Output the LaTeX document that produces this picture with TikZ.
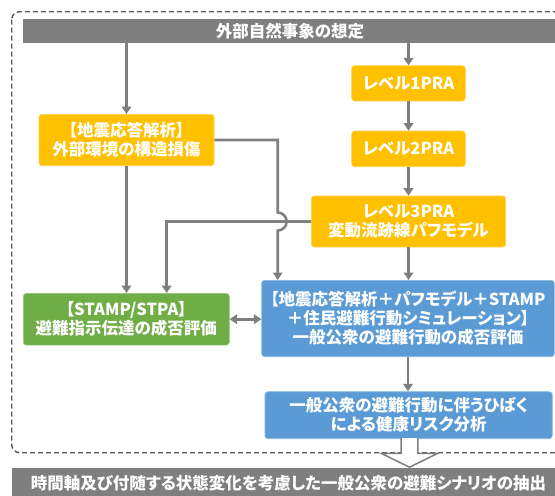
\documentclass[tikz,border=0pt]{standalone}
\usepackage{fontspec}
\setmainfont{Noto Sans CJK JP}[RawFeature={+palt}]
\usetikzlibrary{arrows.meta}
\definecolor{bargray}{HTML}{7F7F7F}
\definecolor{linegray}{HTML}{7F7F7F}
\definecolor{dashgray}{HTML}{595959}
\definecolor{ybox}{HTML}{FFC000}
\definecolor{gbox}{HTML}{70AD47}
\definecolor{bbox}{HTML}{5B9BD5}
\tikzset{
  boxstyle/.style={rectangle, rounded corners=3pt, inner sep=0pt, text=white,
    align=center, font=\fontsize{16.5}{19}\selectfont\bfseries},
  yellowbox/.style={boxstyle, fill=ybox, draw=ybox!70!white, line width=0.6pt},
  greenbox/.style={boxstyle, fill=gbox, draw=gbox!70!white, line width=0.6pt},
  bluebox/.style={boxstyle, fill=bbox, draw=bbox!70!white, line width=0.6pt},
  barstyle/.style={rectangle, inner sep=0pt, fill=bargray, text=white,
    font=\fontsize{16.5}{19}\selectfont\bfseries},
  conn/.style={draw=linegray, line width=2.6pt, -{Triangle[width=9.5pt,length=7.5pt]}},
  conn2/.style={draw=linegray, line width=2.6pt, {Triangle[width=9.5pt,length=7.5pt]}-{Triangle[width=9.5pt,length=7.5pt]}},
  frame/.style={draw=dashgray, line width=1.4pt, dash pattern=on 5pt off 3pt, rounded corners=8pt},
}
\begin{document}
\begin{tikzpicture}[x=1pt,y=-1pt]
\useasboundingbox (0,0) rectangle (555,496);
\clip (0,0) rectangle (555,496);
% dashed frame
\draw[frame] (11.7,11.7) rectangle (565,452.7);
% bars
\fill[bargray] (23,19) rectangle (560,43.3);
\node[barstyle, fill=none] (top) at (290,31.2) {外部自然事象の想定};
\coordinate (topL) at (126.5,43.3);
\coordinate (topR) at (408.5,43.3);
\fill[bargray] (12,468.3) rectangle (565,500);
\node[barstyle, fill=none] (bottom) at (288.5,483) {時間軸及び付随する状態変化を考慮した一般公衆の避難シナリオの抽出};
% boxes
\node[yellowbox, minimum width=175pt, minimum height=51.4pt] (jishin) at (126.5,140)
  {【地震応答解析】\\外部環境の構造損傷};
\node[yellowbox, minimum width=113.6pt, minimum height=35.3pt] (l1) at (408.5,83.35) {レベル1PRA};
\node[yellowbox, minimum width=113.6pt, minimum height=35.7pt] (l2) at (408.5,148.85) {レベル2PRA};
\node[yellowbox, minimum width=194.4pt, minimum height=51pt] (l3) at (408.5,221.5)
  {レベル3PRA\\変動流跡線パフモデル};
\node[greenbox, minimum width=206pt, minimum height=51.7pt] (stamp) at (126.3,319.2)
  {【STAMP/STPA】\\避難指示伝達の成否評価};
\node[bluebox, minimum width=292.6pt, minimum height=76.4pt] (eval) at (408,318.5)
  {【地震応答解析＋パフモデル＋STAMP\\＋住民避難行動シミュレーション】\\一般公衆の避難行動の成否評価};
\node[bluebox, minimum width=287.3pt, minimum height=47pt] (risk) at (408.6,415.2)
  {一般公衆の避難行動に伴うひばく\\による健康リスク分析};
% connectors
\draw[conn] (topL) -- (jishin.north);
\draw[conn] (topR) -- (l1.north);
\draw[conn] (l1.south) -- (l2.south |- l2.north);
\draw[conn] (l2.south) -- (l3.north);
\draw[conn] (l3.south) -- (l3.south |- eval.north);
\draw[conn] (eval.south) -- (eval.south |- risk.north);
\draw[conn] (jishin.south) -- (jishin.south |- stamp.north);
\coordinate (jx) at (277.7,140);
\coordinate (lx) at (166.7,221.5);
\draw[conn] (jishin.east |- jx) -- (jx) -- (277.7,212.5)
  arc[start angle=90, end angle=-90, radius=9pt] -- (jx |- eval.north);
\draw[conn] (l3.west) -- (lx) -- (lx |- stamp.north);
\draw[conn2] (stamp.east) -- (stamp.east -| eval.west);
% hollow arrow
\draw[draw=linegray, fill=white, line width=1.5pt, line join=miter]
  (401.2,438.2) -- (401.2,453.3) -- (381.2,453.3) -- (409.5,467.2) -- (437.8,453.3)
  -- (417.8,453.3) -- (417.8,438.2);
\end{tikzpicture}
\end{document}
